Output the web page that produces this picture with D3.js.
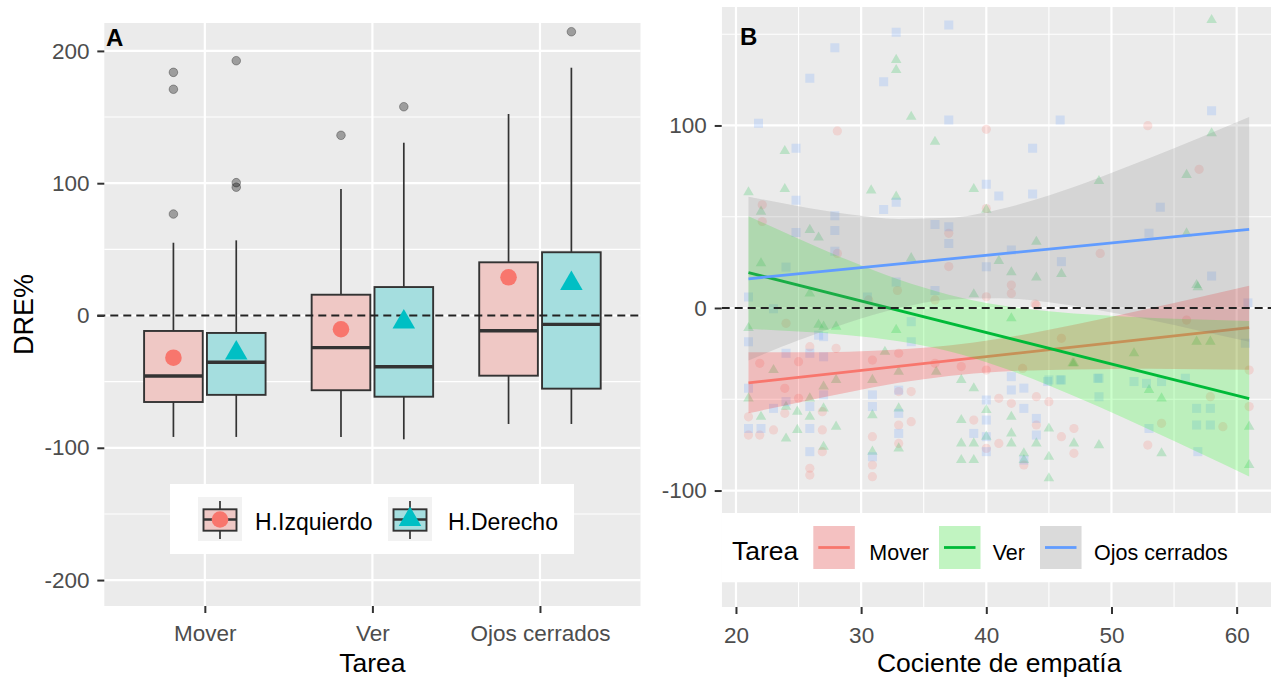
<!DOCTYPE html>
<html>
<head>
<meta charset="utf-8">
<script src="https://cdn.jsdelivr.net/npm/d3@7"></script>
<style>
  body { margin: 0; background: #fff; }
  svg { display: block; }
  text { font-family: "Liberation Sans", Arial, sans-serif; }
</style>
</head>
<body>
<svg id="chart" width="1271" height="678"></svg>
<script>
// ---------- Panel A: DRE% by task and hemisphere ----------
const tareas = ["Mover", "Ver", "Ojos cerrados"];
const hemisferios = ["H.Izquierdo", "H.Derecho"];
// [lower whisker, Q1, median, Q3, upper whisker] per task
const cajasIzquierdo = [[-91.8, -65.4, -45.7, -11.7, 55.0], [-91.8, -56.5, -24.3, 15.7, 95.6], [-82.0, -45.5, -11.5, 40.2, 152.3]];
const cajasDerecho   = [[-91.8, -60.0, -35.4, -13.2, 56.8], [-93.6, -61.4, -38.7, 21.5, 130.6], [-82.0, -55.3, -6.7, 47.8, 187.3]];
const mediasIzquierdo = [-31.9, -10.4, 28.9];
const mediasDerecho   = [-28.3, -4.9, 24.1];
const atipicosIzquierdo = [[183.8, 171.0, 76.7], [136.2], []];
const atipicosDerecho   = [[192.6, 100.4, 97.0], [157.8], [214.5]];
const ticksDRE = [-200, -100, 0, 100, 200];
const ticksDREmenores = [-150, -50, 50, 150];

// ---------- Panel B: DRE% vs empathy quotient ----------
const seriesB = ["Mover", "Ver", "Ojos cerrados"];
const puntosMover = [[28.1,97],[22.1,56.5],[22.1,47.4],[28.1,29.9],[37,40.9],[37,22.7],[30.6,4.4],[32.9,9.6],[24,-8.4],[35.9,4.4],
  [40,97.9],[52.9,99.9],[57,76],[40,54.5],[49.1,29.9],[42,12.6],[42,8],[40,6.1],[44,1.5],
  [21.9,-30.3],[21,-59.6],[21,-69.6],[21.9,-69.6],[23,-66.8],[23.9,-44],[23.9,-57.7],[25,-29.4],[25,-49.5],[25.9,-21.2],[25.9,-87.8],[25.9,-91.5],[26.9,-66.8],[26.9,-78.7],[26.9,-56.8],[28,-22.1],[30.9,-28.5],[30.9,-70.5],[30.9,-86],[30.9,-92.4],[33,-24.8],[33,-45.8],[34,-45.8],[34,-62.3],[33,-64.1],[33,-74.2],[35.9,-30.3],[38,-32.1],
  [39,-61.4],[40,-76.9],[41,-74.2],[41,-49.5],[42,-52.2],[44,-64.1],[45,-51.3],[46,-70.5],[47,-66],[47,-79.6],[52.9,-75.1],[54,-63.2],[57.9,-48.6],[58.9,-65],[61,-34],[61,-54],[43,-86],[40,-34],[44,-48.6],
  [43.9,2.2],[46,-16.6],[56,-6.6],[42.9,-33.1]];
const puntosVer = [[32.8,135.9],[32.8,130.4],[34,104.8],[35.9,91.1],[23.9,86],[21,63.4],[23.9,65.2],[30.8,64.4],[32.8,61],[22,52.8],[25.9,42.8],[26.6,38.6],[22,24.5],[34,27.3],[21,-11],[26.6,-9.2],[32.8,-12],[25.9,8],
  [58,157.8],[58,95.7],[56,72.9],[49,69.6],[39,65.2],[40,53.9],[44,36.3],[41,25.8],[42,19.6],[44,16.7],[46,18.7],[56.9,11.4],[39,7.5],[42,-5.6],[56,40.9],
  [21,-49.5],[22,-59.6],[23,-34],[24,-71.5],[24,-54.1],[24.9,-56.8],[24.9,-66.8],[25.9,-49.5],[25.9,-59.6],[27,-55],[27,-76],[27,-43],[28,-39.4],[28,-65],[30.9,-39.4],[30.9,-58.7],[30.9,-78.7],[33,-34.9],[33,-55],[33,-76.9],[31.9,-24],[36,-34.9],[38,-39.4],[38,-61.4],[38,-74.2],[38,-83.3],[27,-10.2],[28,-10.2],
  [39,-44],[39,-74.2],[39,-83.3],[40,-55.9],[40,-70.5],[42,-59.6],[42,-68.7],[42,-74.2],[43,-79.6],[43,-83.3],[44,-74.2],[45,-66],[45,-81.5],[45,-93.3],[47,-74.2],[49,-75.1],[53,-44.9],[54,-49.5],[54,-79.6],[57.9,-18.4],[61,-65],[61,-86],[47,-30.3],
  [56.8,12.6],[56.8,-18.4],[51.8,-24.8],[46.9,-30.3]];
const puntosOjos = [[32.8,151],[37,155],[27.9,142.6],[25.9,125.8],[31.8,124],[21.8,101.2],[37,103],[24.8,87.5],[24.8,59],[31.8,54],[32.8,58],[27.9,50.5],[35.9,45.8],[37,44.5],[37,35.4],[24.8,41.3],[27.9,42.4],[27.9,31.1],[24,22.4],[32.8,14.2],[35.9,9.6],[21,6],[23,-0.4],[30.5,6],[34,-7.5],[26.6,-14.9],
  [58,108.1],[45.9,103],[43.7,87.5],[40,67.8],[41,61.4],[43.7,62.5],[53.9,55.2],[53,40.9],[42,31.8],[46,25.4],[40,22.6],[58,17.5],[60.9,2.8],
  [21,-44],[21,-66],[22,-66],[23,-55],[24,-51.3],[24,-24.8],[25.9,-24.8],[25.9,-54],[25.9,-66],[25.9,-78.7],[27,-26.7],[27,-47.6],[27,-15.7],[30.9,-47.6],[30.9,-54],[30.9,-81.5],[33,-57.7],[33,-68.7],[33,-45],[21,-18.5],[34,-18.5],
  [39,-68.7],[40,-50.4],[40,-61.4],[40,-70.5],[40,-78.7],[42,-37.6],[42,-44.9],[43,-43.9],[43,-55],[44,-60.5],[44,-69.6],[49,-48.6],[53,-66],[56.9,-78.7],[57.9,-55],[57.9,-64.1],[49,-38.5],[46,-39.4],[45,-39.4],[43,-83.3],[54,-40.3],
  [60.7,-19.3],[48.9,-38.5],[51.8,-40.3],[52.8,-41.3],[55.9,-38.5],[56.8,-55],[56.8,-64.1],[45.9,-39.4],[44.9,-40.3]];
// linear fits (endpoints) and their confidence bands
const ajusteX = [21, 61];
const ajusteMover = [-41.0, -10.8];
const ajusteVer = [19.4, -49.7];
const ajusteOjos = [16.0, 43.1];
const bandaX = [21, 25, 29, 33, 37, 41, 45, 49, 53, 57, 61];
const bandaMoverInf = [-57.7, -51.7, -46.1, -41.0, -37.2, -34.9, -33.9, -33.5, -33.3, -33.5, -33.8];
const bandaMoverSup = [-24.3, -24.3, -23.9, -22.8, -20.6, -16.9, -11.9, -6.3, -0.3, 5.9, 12.2];
const bandaVerInf = [-11.5, -12.9, -14.9, -18.2, -23.7, -32.0, -42.4, -54.1, -66.5, -79.3, -92.3];
const bandaVerSup = [50.3, 37.9, 26.1, 15.6, 7.3, 1.6, -1.8, -3.9, -5.3, -6.3, -7.1];
const bandaOjosInf = [-28.7, -17.7, -7.9, -0.2, 4.6, 5.4, 3.1, -1.2, -6.4, -12.4, -18.5];
const bandaOjosSup = [61.0, 55.7, 51.3, 48.8, 49.4, 54.0, 61.7, 71.4, 82.0, 93.2, 104.7];
const ticksEmpatia = [20, 30, 40, 50, 60];
const ticksEmpatiaMenores = [25, 35, 45, 55];
const ticksDREB = [-100, 0, 100];
const ticksDREBmenores = [-150, -50, 50, 150];

// ---------- styling ----------
const colHemis = { "H.Izquierdo": "#F8766D", "H.Derecho": "#00BFC4" };
const fillHemis = { "H.Izquierdo": "#EFC8C5", "H.Derecho": "#A5DEDF" };
const colLinea = { "Mover": "#F8766D", "Ver": "#00BA38", "Ojos cerrados": "#619CFF" };
const colBanda = { "Mover": "#FF0000", "Ver": "#00FF00", "Ojos cerrados": "#7F7F7F" };
const tickColor = "#4D4D4D";
const fmtTick = d => String(d);   // plain hyphen-minus for negative ticks

const svg = d3.select("#chart");

// ================= Panel A =================
const A = { left: 104.3, right: 640.5, top: 23, bottom: 606 };
const yA = d3.scaleLinear().domain([-219.6, 221.1]).range([A.bottom, A.top]);
const xA = d3.scalePoint().domain(tareas).range([A.left, A.right]).padding(0.6);
const step = xA.step();
const xSub = d3.scaleBand().domain(hemisferios).range([-0.375 * step, 0.375 * step]);
const boxW = xSub.bandwidth() * (0.35 / 0.375);

const gA = svg.append("g");
gA.append("rect").attr("x", A.left).attr("y", A.top)
  .attr("width", A.right - A.left).attr("height", A.bottom - A.top).attr("fill", "#EBEBEB");
gA.selectAll(".minA").data(ticksDREmenores).join("line")
  .attr("x1", A.left).attr("x2", A.right).attr("y1", d => yA(d)).attr("y2", d => yA(d))
  .attr("stroke", "#fff").attr("stroke-width", 1.1);
gA.selectAll(".majA").data(ticksDRE).join("line")
  .attr("x1", A.left).attr("x2", A.right).attr("y1", d => yA(d)).attr("y2", d => yA(d))
  .attr("stroke", "#fff").attr("stroke-width", 2.2);
gA.selectAll(".vA").data(tareas).join("line")
  .attr("x1", d => xA(d)).attr("x2", d => xA(d)).attr("y1", A.top).attr("y2", A.bottom)
  .attr("stroke", "#fff").attr("stroke-width", 2.2);

// box records
const cajas = [];
tareas.forEach((t, i) => {
  [[hemisferios[0], cajasIzquierdo[i], mediasIzquierdo[i], atipicosIzquierdo[i]],
   [hemisferios[1], cajasDerecho[i], mediasDerecho[i], atipicosDerecho[i]]].forEach(([h, s, m, o]) => {
    cajas.push({ tarea: t, hemi: h, s, media: m, atip: o, cx: xA(t) + xSub(h) + xSub.bandwidth() / 2 });
  });
});

const gBox = gA.append("g");
cajas.forEach(c => {
  const g = gBox.append("g");
  g.append("line").attr("x1", c.cx).attr("x2", c.cx).attr("y1", yA(c.s[3])).attr("y2", yA(c.s[4]))
    .attr("stroke", "#333").attr("stroke-width", 1.7);
  g.append("line").attr("x1", c.cx).attr("x2", c.cx).attr("y1", yA(c.s[1])).attr("y2", yA(c.s[0]))
    .attr("stroke", "#333").attr("stroke-width", 1.7);
  g.append("rect").attr("x", c.cx - boxW / 2).attr("width", boxW)
    .attr("y", yA(c.s[3])).attr("height", yA(c.s[1]) - yA(c.s[3]))
    .attr("fill", fillHemis[c.hemi]).attr("stroke", "#333").attr("stroke-width", 1.9);
  g.append("line").attr("x1", c.cx - boxW / 2).attr("x2", c.cx + boxW / 2)
    .attr("y1", yA(c.s[2])).attr("y2", yA(c.s[2])).attr("stroke", "#333").attr("stroke-width", 3.4);
  g.selectAll("circle").data(c.atip).join("circle")
    .attr("cx", c.cx).attr("cy", d => yA(d)).attr("r", 4.3)
    .attr("fill", "rgba(0,0,0,0.33)").attr("stroke", "rgba(0,0,0,0.3)").attr("stroke-width", 1);
});

// reference line at zero
gA.append("line").attr("x1", A.left - 7).attr("x2", A.right).attr("y1", yA(0)).attr("y2", yA(0))
  .attr("stroke", "#222").attr("stroke-width", 2).attr("stroke-dasharray", "8,5");

// means
const triA = d3.symbol(d3.symbolTriangle, 220);
cajas.forEach(c => {
  if (c.hemi === "H.Izquierdo") {
    gA.append("circle").attr("cx", c.cx).attr("cy", yA(c.media)).attr("r", 8.3).attr("fill", colHemis[c.hemi]);
  } else {
    gA.append("path").attr("d", triA()).attr("transform", `translate(${c.cx},${yA(c.media)})`).attr("fill", colHemis[c.hemi]);
  }
});

// axes A
const axA = gA.append("g").attr("transform", `translate(${A.left},0)`)
  .call(d3.axisLeft(yA).tickValues(ticksDRE).tickFormat(fmtTick).tickSize(7).tickPadding(7.8));
const axAx = gA.append("g").attr("transform", `translate(0,${A.bottom})`)
  .call(d3.axisBottom(xA).tickSize(7).tickPadding(12));
[axA, axAx].forEach(ax => {
  ax.select(".domain").remove();
  ax.selectAll(".tick line").attr("stroke", "#333").attr("stroke-width", 2);
  ax.selectAll(".tick text").attr("fill", tickColor).attr("font-size", 22.5);
});
gA.append("text").attr("transform", `translate(32.5,${(A.top + A.bottom) / 2}) rotate(-90)`)
  .attr("text-anchor", "middle").attr("font-size", 27).attr("fill", "#000").text("DRE%");
gA.append("text").attr("x", (A.left + A.right) / 2).attr("y", 672)
  .attr("text-anchor", "middle").attr("font-size", 26.5).attr("fill", "#000").text("Tarea");
gA.append("text").attr("x", 106).attr("y", 45.5).attr("font-size", 24).attr("font-weight", "bold").text("A");

// legend A
const legA = gA.append("g");
legA.append("rect").attr("x", 170).attr("y", 484).attr("width", 404).attr("height", 70).attr("fill", "#fff");
const legAItems = [{ h: "H.Izquierdo", kx: 198, tx: 255 }, { h: "H.Derecho", kx: 388, tx: 448 }];
legAItems.forEach(it => {
  const cx = it.kx + 22, cy = 519.5;
  legA.append("rect").attr("x", it.kx).attr("y", 497).attr("width", 44).attr("height", 44).attr("fill", "#F2F2F2");
  legA.append("line").attr("x1", cx).attr("x2", cx).attr("y1", 501).attr("y2", 539).attr("stroke", "#333").attr("stroke-width", 1.7);
  legA.append("rect").attr("x", cx - 16.5).attr("y", 509.3).attr("width", 33).attr("height", 21.4)
    .attr("fill", fillHemis[it.h]).attr("stroke", "#333").attr("stroke-width", 1.9);
  legA.append("line").attr("x1", cx - 16.5).attr("x2", cx + 16.5).attr("y1", cy).attr("y2", cy).attr("stroke", "#333").attr("stroke-width", 2.4);
  if (it.h === "H.Izquierdo") {
    legA.append("circle").attr("cx", cx).attr("cy", cy).attr("r", 8.3).attr("fill", colHemis[it.h]);
  } else {
    legA.append("path").attr("d", triA()).attr("transform", `translate(${cx},${cy})`).attr("fill", colHemis[it.h]);
  }
  legA.append("text").attr("x", it.tx).attr("y", 530).attr("font-size", 23).attr("fill", "#000").text(it.h);
});

// ================= Panel B =================
const B = { left: 721.7, right: 1276.7, top: 7, bottom: 607 };
const xB = d3.scaleLinear().domain([18.86, 63.2]).range([B.left, B.right]);
const yB = d3.scaleLinear().domain([-163.8, 164.9]).range([B.bottom, B.top]);

svg.append("defs").append("clipPath").attr("id", "clipB")
  .append("rect").attr("x", B.left).attr("y", B.top).attr("width", B.right - B.left).attr("height", B.bottom - B.top);

const gB = svg.append("g").attr("clip-path", "url(#clipB)");
gB.append("rect").attr("x", B.left).attr("y", B.top)
  .attr("width", B.right - B.left).attr("height", B.bottom - B.top).attr("fill", "#EBEBEB");
gB.selectAll(".minBy").data(ticksDREBmenores).join("line")
  .attr("x1", B.left).attr("x2", B.right).attr("y1", d => yB(d)).attr("y2", d => yB(d))
  .attr("stroke", "#fff").attr("stroke-width", 1.1);
gB.selectAll(".minBx").data(ticksEmpatiaMenores).join("line")
  .attr("x1", d => xB(d)).attr("x2", d => xB(d)).attr("y1", B.top).attr("y2", B.bottom)
  .attr("stroke", "#fff").attr("stroke-width", 1.1);
gB.selectAll(".majBy").data(ticksDREB).join("line")
  .attr("x1", B.left).attr("x2", B.right).attr("y1", d => yB(d)).attr("y2", d => yB(d))
  .attr("stroke", "#fff").attr("stroke-width", 2.2);
gB.selectAll(".majBx").data(ticksEmpatia).join("line")
  .attr("x1", d => xB(d)).attr("x2", d => xB(d)).attr("y1", B.top).attr("y2", B.bottom)
  .attr("stroke", "#fff").attr("stroke-width", 2.2);

// scatter
const gPts = gB.append("g");
gPts.selectAll(".pM").data(puntosMover).join("circle")
  .attr("cx", d => xB(d[0])).attr("cy", d => yB(d[1])).attr("r", 4.6)
  .attr("fill", colLinea["Mover"]).attr("fill-opacity", 0.2);
const triB = d3.symbol(d3.symbolTriangle, 48);
gPts.selectAll(".pV").data(puntosVer).join("path")
  .attr("d", triB()).attr("transform", d => `translate(${xB(d[0])},${yB(d[1])})`)
  .attr("fill", colLinea["Ver"]).attr("fill-opacity", 0.2);
const sqB = d3.symbol(d3.symbolSquare, 81);
gPts.selectAll(".pO").data(puntosOjos).join("path")
  .attr("d", sqB()).attr("transform", d => `translate(${xB(d[0])},${yB(d[1])})`)
  .attr("fill", colLinea["Ojos cerrados"]).attr("fill-opacity", 0.2);

// bands and fitted lines, drawn group by group
const grupos = [
  { k: "Mover", inf: bandaMoverInf, sup: bandaMoverSup, fit: ajusteMover },
  { k: "Ver", inf: bandaVerInf, sup: bandaVerSup, fit: ajusteVer },
  { k: "Ojos cerrados", inf: bandaOjosInf, sup: bandaOjosSup, fit: ajusteOjos }
];
const area = d3.area().x(d => xB(d.x)).y0(d => yB(d.lo)).y1(d => yB(d.hi)).curve(d3.curveMonotoneX);
const linea = d3.line().x(d => xB(d.x)).y(d => yB(d.y));
grupos.forEach(g => {
  const banda = bandaX.map((x, i) => ({ x, lo: g.inf[i], hi: g.sup[i] }));
  gB.append("path").attr("d", area(banda)).attr("fill", colBanda[g.k]).attr("fill-opacity", 0.2);
  const fit = ajusteX.map((x, i) => ({ x, y: g.fit[i] }));
  gB.append("path").attr("d", linea(fit)).attr("fill", "none")
    .attr("stroke", colLinea[g.k]).attr("stroke-width", 2.8);
});

gB.append("line").attr("x1", B.left).attr("x2", B.right).attr("y1", yB(0)).attr("y2", yB(0))
  .attr("stroke", "#222").attr("stroke-width", 2).attr("stroke-dasharray", "8,5");

gB.append("text").attr("x", 740).attr("y", 45).attr("font-size", 24).attr("font-weight", "bold").text("B");

// legend B (inside panel, along the bottom)
const legB = gB.append("g");
legB.append("rect").attr("x", B.left).attr("y", 513).attr("width", B.right - B.left).attr("height", 69).attr("fill", "#fff");
legB.append("text").attr("x", 732).attr("y", 560).attr("font-size", 26.5).attr("fill", "#000").text("Tarea");
const legBItems = [{ k: "Mover", kx: 813.3, tx: 869.3 }, { k: "Ver", kx: 939, tx: 992.7 }, { k: "Ojos cerrados", kx: 1040, tx: 1094 }];
legBItems.forEach(it => {
  legB.append("rect").attr("x", it.kx).attr("y", 526).attr("width", 41.5).attr("height", 43).attr("fill", "#F2F2F2");
  legB.append("rect").attr("x", it.kx).attr("y", 526).attr("width", 41.5).attr("height", 43)
    .attr("fill", colBanda[it.k]).attr("fill-opacity", 0.2);
  legB.append("line").attr("x1", it.kx + 5).attr("x2", it.kx + 36.5).attr("y1", 547.5).attr("y2", 547.5)
    .attr("stroke", colLinea[it.k]).attr("stroke-width", 2.8);
  legB.append("text").attr("x", it.tx).attr("y", 559.5).attr("font-size", 21.5).attr("fill", "#000").text(it.k);
});

// axes B
const axBy = svg.append("g").attr("transform", `translate(${B.left},0)`)
  .call(d3.axisLeft(yB).tickValues(ticksDREB).tickFormat(fmtTick).tickSize(7).tickPadding(8));
const axBx = svg.append("g").attr("transform", `translate(0,${B.bottom})`)
  .call(d3.axisBottom(xB).tickValues(ticksEmpatia).tickFormat(fmtTick).tickSize(7).tickPadding(12.7));
[axBy, axBx].forEach(ax => {
  ax.select(".domain").remove();
  ax.selectAll(".tick line").attr("stroke", "#333").attr("stroke-width", 2);
  ax.selectAll(".tick text").attr("fill", tickColor).attr("font-size", 22.5);
});
svg.append("text").attr("x", (B.left + B.right) / 2).attr("y", 672)
  .attr("text-anchor", "middle").attr("font-size", 26.5).attr("fill", "#000").text("Cociente de empatía");
</script>
</body>
</html>
